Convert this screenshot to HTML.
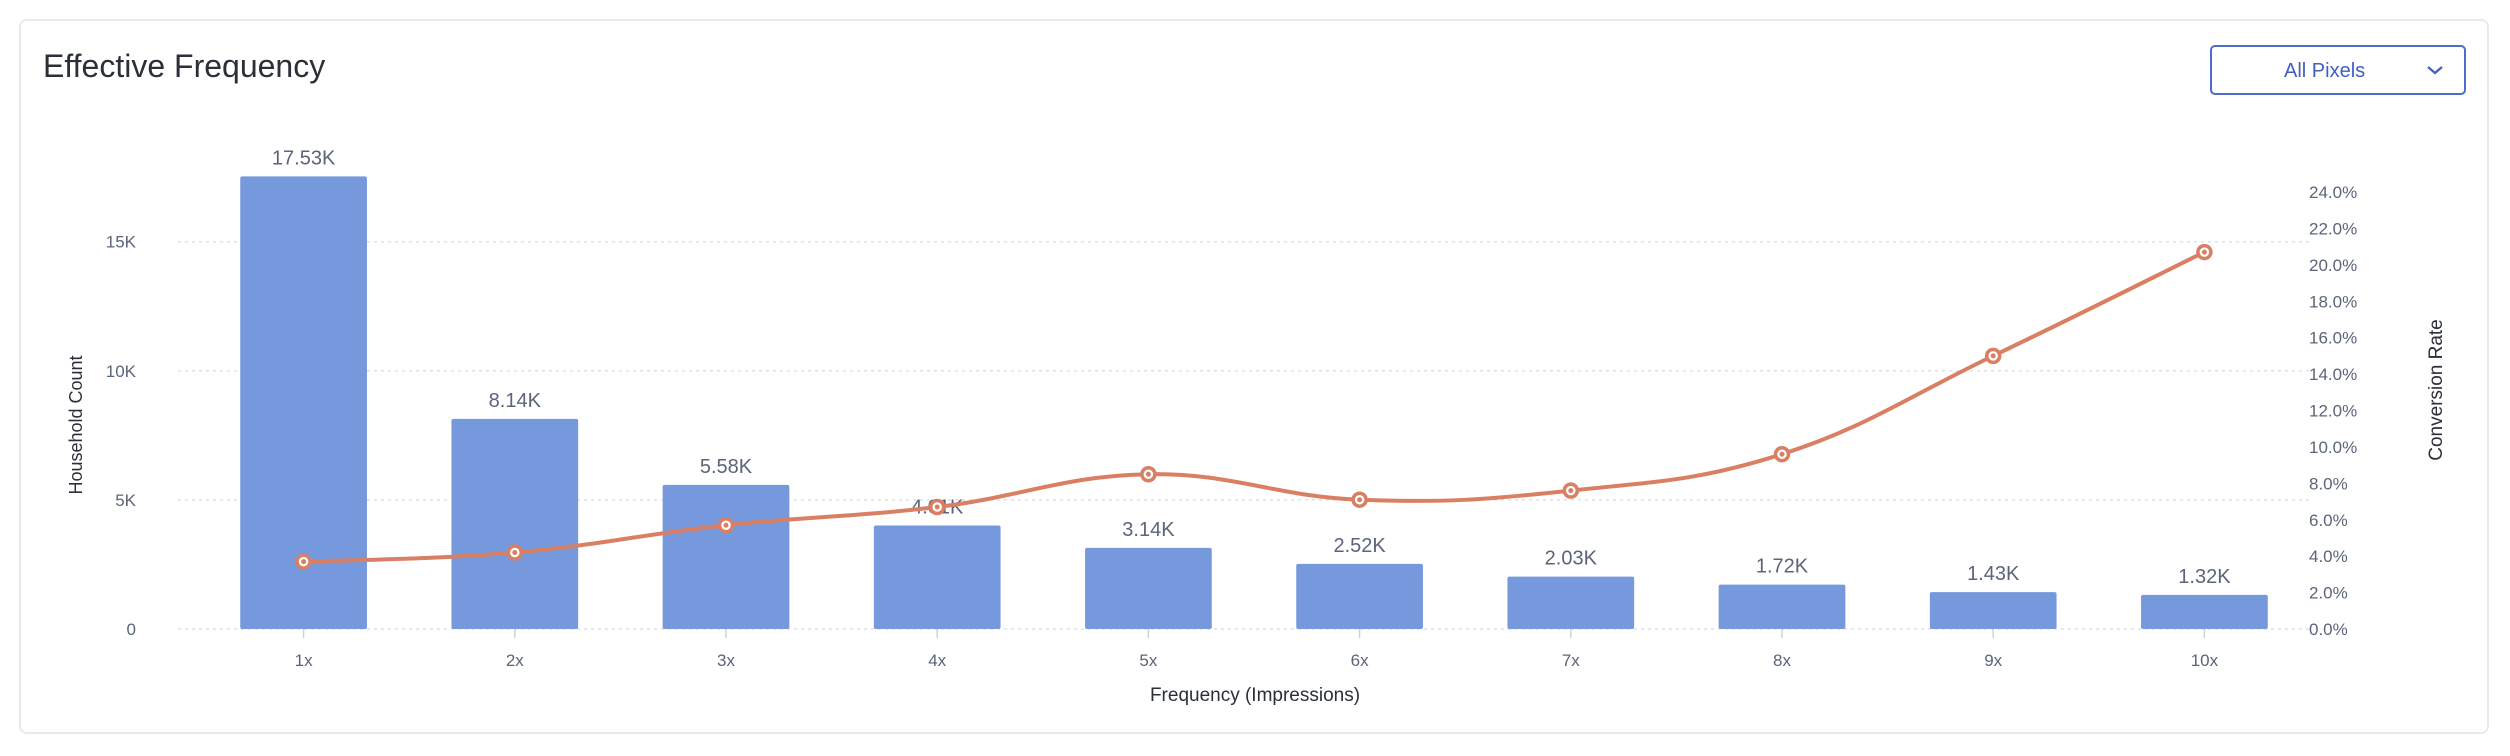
<!DOCTYPE html>
<html><head><meta charset="utf-8">
<style>
html,body{margin:0;padding:0;background:#fff;width:2510px;height:756px;overflow:hidden;font-family:"Liberation Sans",sans-serif;}
#card{position:absolute;left:19px;top:19px;width:2470px;height:715px;border:2px solid #e8eaee;border-radius:8px;box-sizing:border-box;}
#title{position:absolute;left:43px;top:48px;font-size:32px;color:#2b2f38;}
#dd{position:absolute;left:2210px;top:45px;width:256px;height:50px;border:2px solid #4f6cc9;border-radius:5px;box-sizing:border-box;color:#3f5fc4;font-size:20px;}
#dd span{position:absolute;left:72px;top:13px;}
#dd svg{position:absolute;right:20px;top:17px;}
svg#chart{position:absolute;left:0;top:0;}
</style></head><body>
<div id="card"></div>
<div id="title">Effective Frequency</div>
<div id="dd"><span>All Pixels</span>
<svg width="18" height="12"><polyline points="2,3 9,9 16,3" fill="none" stroke="#3f5fc4" stroke-width="2.2"/></svg></div>
<svg id="chart" width="2510" height="756"></svg>
<script>
const categories=["1x","2x","3x","4x","5x","6x","7x","8x","9x","10x"];
const householdCounts=[17530,8140,5580,4010,3140,2520,2030,1720,1430,1320];
const barLabels=["17.53K","8.14K","5.58K","4.01K","3.14K","2.52K","2.03K","1.72K","1.43K","1.32K"];
const conversionRates=[3.7,4.2,5.7,6.7,8.5,7.1,7.6,9.6,15.0,20.7];
const leftTicks=[0,5000,10000,15000];
const leftTickLabels=["0","5K","10K","15K"];
const rightTicks=[0,2,4,6,8,10,12,14,16,18,20,22,24];

const NS="http://www.w3.org/2000/svg";
const svg=document.getElementById('chart');
const X0=198,X1=2310,Y0=629;
const band=(X1-X0)/categories.length;
const xC=i=>X0+band*(i+0.5);
const yL=v=>Y0-v*(129.1/5000);
const yR=v=>Y0-v*(437/24);
function mk(t,a,txt){const e=document.createElementNS(NS,t);for(const k in a)e.setAttribute(k,a[k]);if(txt!==undefined)e.textContent=txt;svg.appendChild(e);return e;}
const txtC="#5b6479";
// grid + left ticks
leftTicks.forEach((v,i)=>{
 const g=mk('line',{x1:X0-20,x2:X1,y1:yL(v),y2:yL(v),stroke:'#dde1e8','stroke-width':1.5,'stroke-dasharray':'3,4'});
 
 const t=mk('text',{x:X0-62,y:yL(v)+6,'text-anchor':'end','font-size':17,fill:txtC},leftTickLabels[i]);
 
});
rightTicks.forEach(v=>{
 const t=mk('text',{x:2309,y:yR(v)+6,'font-size':17,fill:txtC},v.toFixed(1)+'%');
 
});
// bars
categories.forEach((c,i)=>{
 const bw=band*0.6,h=Y0-yL(householdCounts[i]);
 const r=mk('rect',{x:xC(i)-bw/2,y:yL(householdCounts[i]),width:bw,height:h,rx:2,fill:'#7698dc'});
 
 const l=mk('text',{x:xC(i),y:yL(householdCounts[i])-12,'text-anchor':'middle','font-size':20,fill:txtC},barLabels[i]);
 
 const tk=mk('line',{x1:xC(i),x2:xC(i),y1:Y0,y2:Y0+9,stroke:'#ccd2dc','stroke-width':1.5});
 
 const xl=mk('text',{x:xC(i),y:666,'text-anchor':'middle','font-size':17,fill:txtC},c);
 
});
// line (catmull-rom)
const pts=conversionRates.map((v,i)=>[xC(i),yR(v)]);
let d='M'+pts[0][0]+','+pts[0][1];
for(let i=0;i<pts.length-1;i++){
 const p0=pts[Math.max(0,i-1)],p1=pts[i],p2=pts[i+1],p3=pts[Math.min(pts.length-1,i+2)];
 const t=0.2;
 d+=` C${p1[0]+(p2[0]-p0[0])*t},${p1[1]+(p2[1]-p0[1])*t} ${p2[0]-(p3[0]-p1[0])*t},${p2[1]-(p3[1]-p1[1])*t} ${p2[0]},${p2[1]}`;
}
const path=mk('path',{d:d,fill:'none',stroke:'#d97f63','stroke-width':4});

pts.forEach(p=>{
 const c=mk('circle',{cx:p[0],cy:p[1],r:6.5,fill:'#fff',stroke:'#d97f63','stroke-width':3.5});
 
 const c2=mk('circle',{cx:p[0],cy:p[1],r:2.5,fill:'#d97f63'});
 
});
// axis titles
const at1=mk('text',{x:0,y:0,transform:'translate(82,425) rotate(-90)','text-anchor':'middle','font-size':18,fill:'#2b2f38'},'Household Count');

const at2=mk('text',{x:0,y:0,transform:'translate(2442,390) rotate(-90)','text-anchor':'middle','font-size':19,fill:'#2b2f38'},'Conversion Rate');

const at3=mk('text',{x:1255,y:701,'text-anchor':'middle','font-size':19,fill:'#2b2f38'},'Frequency (Impressions)');

</script>
</body></html>
